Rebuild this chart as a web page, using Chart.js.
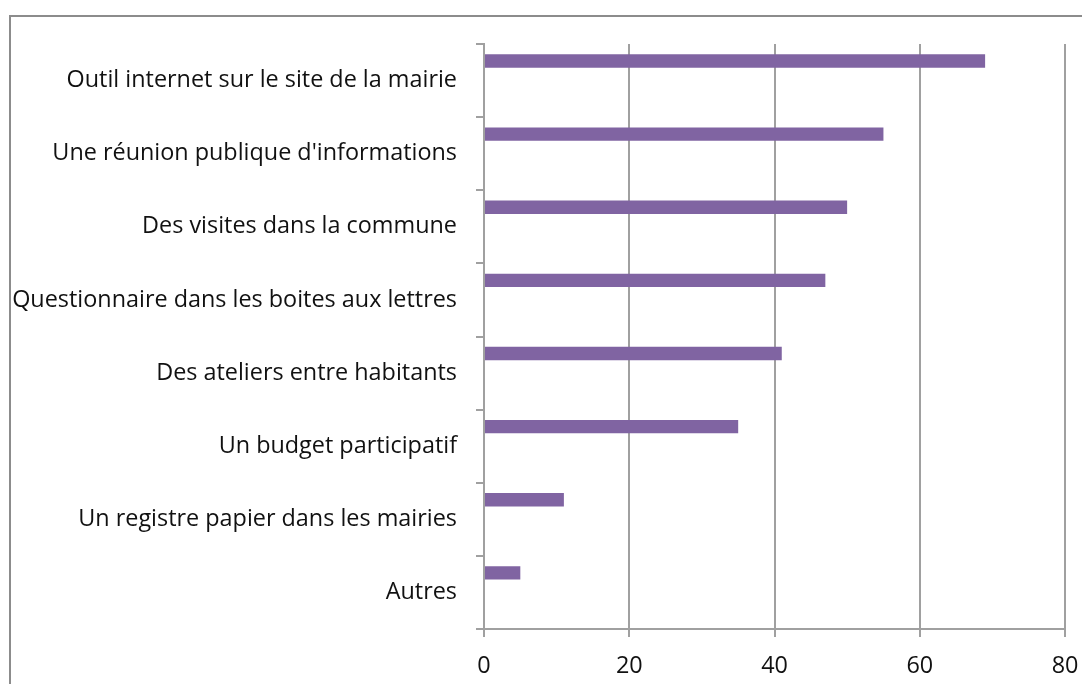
<!DOCTYPE html>
<html>
<head>
<meta charset="utf-8">
<script src="https://cdn.jsdelivr.net/npm/chart.js@4"></script>
<style>
    html, body { margin: 0; padding: 0; background: #fff; }
    #wrap { position: relative; width: 1082px; height: 684px; overflow: hidden; }
    #frame {
        position: absolute; left: 9px; top: 15px; width: 1200px; height: 800px;
        border-left: 2px solid #8c8c8c; border-top: 2px solid #8c8c8c;
    }
    #chart { position: absolute; left: 0; top: 0; }
</style>
</head>
<body>
<div id="wrap">
    <div id="frame"></div>
    <canvas id="chart" width="1082" height="684"></canvas>
</div>
<script>
// Modes de concertation souhaités
const categories = [
    'Outil internet sur le site de la mairie',
    "Une réunion publique d'informations",
    'Des visites dans la commune',
    'Questionnaire dans les boites aux lettres',
    'Des ateliers entre habitants',
    'Un budget participatif',
    'Un registre papier dans les mairies',
    'Autres'
];
const values = [69, 55, 50, 47, 41, 35, 11, 5];
// empty second series, keeps the bars in the upper half of each band
const emptySeries = categories.map(() => null);
const xTicks = [0, 20, 40, 60, 80];

const axisColor = '#a0a0a0';
const textFont = { family: 'Open Sans', size: 23.4 };

document.addEventListener('DOMContentLoaded', function() {
    if (typeof Chart === 'undefined') {
        console.error('Chart.js not loaded');
        return;
    }
    const ctx = document.getElementById('chart');
    new Chart(ctx, {
        type: 'bar',
        data: {
            labels: categories,
            datasets: [{
                label: 'Série 1',
                data: values,
                backgroundColor: '#8064a2',
                categoryPercentage: 1.07,
                barPercentage: 0.34
            }, {
                label: 'Série 2',
                data: emptySeries,
                backgroundColor: '#8064a2',
                categoryPercentage: 1.07,
                barPercentage: 0.34
            }]
        },
        options: {
            indexAxis: 'y',
            responsive: false,
            animation: false,
            layout: {
                padding: { left: 0, top: 44, right: 17, bottom: 0 }
            },
            plugins: {
                legend: { display: false },
                tooltip: { enabled: false }
            },
            scales: {
                x: {
                    min: 0,
                    max: 80,
                    afterBuildTicks: function(scale) {
                        scale.ticks = xTicks.map(v => ({ value: v }));
                    },
                    afterFit: function(scale) {
                        scale.height = 55;
                        scale.paddingLeft = 0;
                        scale.paddingRight = 0;
                    },
                    grid: {
                        color: axisColor,
                        lineWidth: 2,
                        tickLength: 8
                    },
                    border: { display: true, color: axisColor, width: 2 },
                    ticks: {
                        color: '#111',
                        font: textFont,
                        padding: 15
                    }
                },
                y: {
                    afterFit: function(scale) {
                        scale.width = 484;
                        scale.paddingTop = 0;
                        scale.paddingBottom = 0;
                    },
                    grid: {
                        offset: true,
                        drawOnChartArea: false,
                        color: axisColor,
                        lineWidth: 2,
                        tickLength: 8
                    },
                    border: { display: true, color: axisColor, width: 2 },
                    ticks: {
                        color: '#111',
                        font: textFont,
                        padding: 19
                    }
                }
            }
        }
    });
});
</script>
</body>
</html>
